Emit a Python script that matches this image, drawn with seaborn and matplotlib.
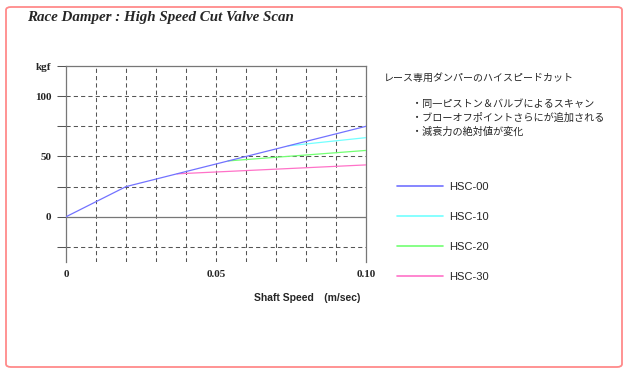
import matplotlib
matplotlib.use("Agg")
import matplotlib.pyplot as plt
from matplotlib.patches import FancyBboxPatch
import pandas as pd
import seaborn as sns

# shaft speed (m/sec) / damping force (kgf)
hsc00_speed = [0.0, 0.02, 0.10]
hsc00_force = [0.0, 25.0, 75.0]
hsc10_speed = [0.074, 0.10]
hsc10_force = [58.8, 65.6]
hsc20_speed = [0.054, 0.10]
hsc20_force = [46.3, 55.0]
hsc30_speed = [0.037, 0.10]
hsc30_force = [35.6, 43.0]

series = ["HSC-00", "HSC-10", "HSC-20", "HSC-30"]
colors = ["#7272ff", "#72ffff", "#72ff72", "#ff72c8"]

title = "Race Damper : High Speed Cut Valve Scan"
note_head = "レース専用ダンパーのハイスピードカット"
note_items = ["・同一ピストン＆バルブによるスキャン",
              "・ブローオフポイントさらにが追加される",
              "・減衰力の絶対値が変化"]
x_label = "Shaft Speed\u3000(m/sec)"
y_ticks = [-25, 0, 25, 50, 75, 100, 125]
y_ticklabels = ["", "0", "", "50", "", "100", "kgf"]
x_ticks = [0.0, 0.05, 0.10]
x_ticklabels = ["0", "0.05", "0.10"]

rows = []
for name, xs, ys in zip(series,
                        [hsc00_speed, hsc10_speed, hsc20_speed, hsc30_speed],
                        [hsc00_force, hsc10_force, hsc20_force, hsc30_force]):
    for x, y in zip(xs, ys):
        rows.append({"speed": x, "force": y, "series": name})
df = pd.DataFrame(rows)

sns.set_style("white")
plt.rcParams["font.family"] = ["Liberation Sans", "DejaVu Sans"]

W, H = 628, 373
fig = plt.figure(figsize=(W / 100, H / 100), dpi=100)
ax = fig.add_axes([66 / W, 1 - 262 / H, 300 / W, 196 / H])

grid_c = "#555555"
dash = (0, (4, 3))
for y in [-25, 25, 50, 75, 100]:
    ax.axhline(y, color=grid_c, lw=0.75, ls=dash, zorder=1)
for x in [0.01, 0.02, 0.03, 0.04, 0.05, 0.06, 0.07, 0.08, 0.09]:
    ax.axvline(x, color=grid_c, lw=0.75, ls=dash, zorder=1)
ax.axhline(0, color="#777777", lw=0.9, zorder=1)

sns.lineplot(data=df, x="speed", y="force", hue="series", hue_order=series[::-1],
             palette=dict(zip(series, colors)), lw=0.9, ax=ax, zorder=3,
             estimator=None, sort=False)

ax.set_xlim(0, 0.10)
ax.set_ylim(-37.5, 125)
for s in ["left", "right", "top"]:
    ax.spines[s].set_color("#777777")
    ax.spines[s].set_linewidth(0.9)
ax.spines["bottom"].set_visible(False)

ax.set_yticks(y_ticks)
ax.set_yticklabels(y_ticklabels, family="Liberation Serif", fontweight="bold", fontsize=8)
ax.set_xticks(x_ticks)
ax.set_xticklabels(x_ticklabels, family="Liberation Serif", fontweight="bold", fontsize=8)
ax.tick_params(axis="y", length=6.5, width=0.75, color=grid_c, pad=4, left=True)
ax.tick_params(axis="x", length=0, pad=6)
ax.set_xlabel("")
ax.set_ylabel("")

handles, labels = ax.get_legend_handles_labels()
order = [labels.index(s) for s in series]
leg = ax.legend([handles[i] for i in order], series, loc="upper left",
                bbox_to_anchor=(397 / W, 1 - 182 / H), bbox_transform=fig.transFigure,
                frameon=False, fontsize=8, handlelength=4.1, handletextpad=0.6,
                labelspacing=1.8, borderpad=0, borderaxespad=0)
for line in leg.get_lines():
    line.set_linewidth(1.2)

fig.text(27 / W, 1 - 18 / H, title, family="Liberation Serif", style="italic",
         fontweight="bold", fontsize=10.8, va="center", ha="left")
jp = ["Noto Sans CJK JP", "DejaVu Sans"]
fig.text(384 / W, 1 - 78 / H, note_head, family=jp, fontsize=7.2, va="center")
for i, t in enumerate(note_items):
    fig.text(412 / W, 1 - (104 + 13.7 * i) / H, t, family=jp, fontsize=7.3, va="center")
fig.text(307 / W, 1 - 298 / H, x_label, family=["Liberation Sans", "Noto Sans CJK JP"],
         fontweight="bold", fontsize=7.5, ha="center", va="center")

border = FancyBboxPatch((6 / W, 6 / H), 616 / W, 360 / H,
                        boxstyle="round,pad=0,rounding_size=0.008",
                        transform=fig.transFigure, fill=False,
                        edgecolor="#ff8a8a", lw=1.3)
fig.add_artist(border)

fig.savefig("out.png", dpi=100)
